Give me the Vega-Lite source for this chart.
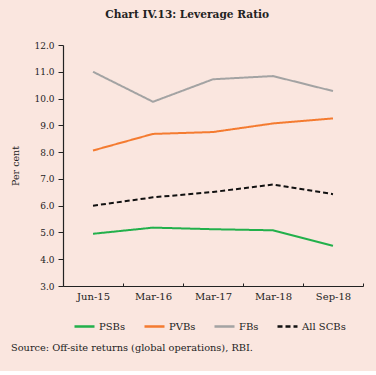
{
  "$schema": "https://vega.github.io/schema/vega-lite/v6.json",
  "background": "#fae6df",
  "padding": {"left": 10, "top": 10, "right": 12, "bottom": 18},
  "autosize": {"type": "pad"},
  "title": {"text": "Chart IV.13: Leverage Ratio", "font": "DejaVu Serif", "fontSize": 10.6, "fontWeight": "bold", "color": "#222222", "offset": 20, "anchor": "middle"},
  "config": {
    "view": {"stroke": null},
    "axis": {"labelFont": "DejaVu Serif", "labelFontSize": 9, "labelColor": "#222222", "titleFont": "DejaVu Serif", "titleFontSize": 9.5, "titleFontWeight": "normal", "titleColor": "#222222", "domainColor": "#222222", "tickColor": "#222222", "grid": false},
    "legend": {"labelFont": "DejaVu Serif", "labelFontSize": 10, "labelColor": "#222222"}
  },
  "vconcat": [
    {
      "width": 300,
      "height": 241,
      "title": {"text": "Source: Off-site returns (global operations), RBI.", "orient": "bottom", "anchor": "start", "font": "DejaVu Serif", "fontSize": 9.8, "fontWeight": "normal", "color": "#222222", "offset": 42},
      "data": {"values": [
        {"series": "PSBs", "date": "Jun-15", "value": 4.95},
        {"series": "PSBs", "date": "Mar-16", "value": 5.18},
        {"series": "PSBs", "date": "Mar-17", "value": 5.12},
        {"series": "PSBs", "date": "Mar-18", "value": 5.08},
        {"series": "PSBs", "date": "Sep-18", "value": 4.5},
        {"series": "PVBs", "date": "Jun-15", "value": 8.06},
        {"series": "PVBs", "date": "Mar-16", "value": 8.68},
        {"series": "PVBs", "date": "Mar-17", "value": 8.75},
        {"series": "PVBs", "date": "Mar-18", "value": 9.07},
        {"series": "PVBs", "date": "Sep-18", "value": 9.26},
        {"series": "FBs", "date": "Jun-15", "value": 11.0},
        {"series": "FBs", "date": "Mar-16", "value": 9.88},
        {"series": "FBs", "date": "Mar-17", "value": 10.72},
        {"series": "FBs", "date": "Mar-18", "value": 10.84},
        {"series": "FBs", "date": "Sep-18", "value": 10.28},
        {"series": "All SCBs", "date": "Jun-15", "value": 6.0},
        {"series": "All SCBs", "date": "Mar-16", "value": 6.31},
        {"series": "All SCBs", "date": "Mar-17", "value": 6.51},
        {"series": "All SCBs", "date": "Mar-18", "value": 6.79},
        {"series": "All SCBs", "date": "Sep-18", "value": 6.43}
      ]},
      "mark": {"type": "line", "strokeWidth": 2},
      "encoding": {
        "x": {"field": "date", "type": "ordinal", "sort": ["Jun-15", "Mar-16", "Mar-17", "Mar-18", "Sep-18"],
              "scale": {"type": "band", "paddingInner": 0, "paddingOuter": 0},
              "bandPosition": 0.5,
              "axis": {"title": null, "labelAngle": 0, "labelFontSize": 10, "tickBand": "extent", "tickSize": -3, "labelPadding": 8, "domainWidth": 1.2}},
        "y": {"field": "value", "type": "quantitative",
              "scale": {"domain": [3, 12], "nice": false, "zero": false},
              "axis": {"title": "Per cent", "values": [3, 4, 5, 6, 7, 8, 9, 10, 11, 12], "format": ".1f", "tickSize": 5, "labelPadding": 4, "titlePadding": 13, "domainWidth": 1.2}},
        "color": {"field": "series", "type": "nominal", "title": null,
                  "scale": {"domain": ["PSBs", "PVBs", "FBs", "All SCBs"], "range": ["#22b04b", "#f47b30", "#a3a3a3", "#111111"]},
                  "legend": {"orient": "none", "legendX": 10, "legendY": 270, "direction": "horizontal", "gridAlign": "none", "symbolType": "stroke", "symbolSize": 400, "symbolStrokeWidth": 2.5, "columnPadding": 13, "labelOffset": 3}},
        "strokeDash": {"field": "series", "type": "nominal", "title": null,
                  "scale": {"domain": ["PSBs", "PVBs", "FBs", "All SCBs"], "range": [[1, 0], [1, 0], [1, 0], [5, 3]]},
                  "legend": {"orient": "none", "legendX": 10, "legendY": 270, "direction": "horizontal", "gridAlign": "none", "symbolType": "stroke", "symbolSize": 400, "symbolStrokeWidth": 2.5, "columnPadding": 13, "labelOffset": 3}}
      }
    }
  ]
}
